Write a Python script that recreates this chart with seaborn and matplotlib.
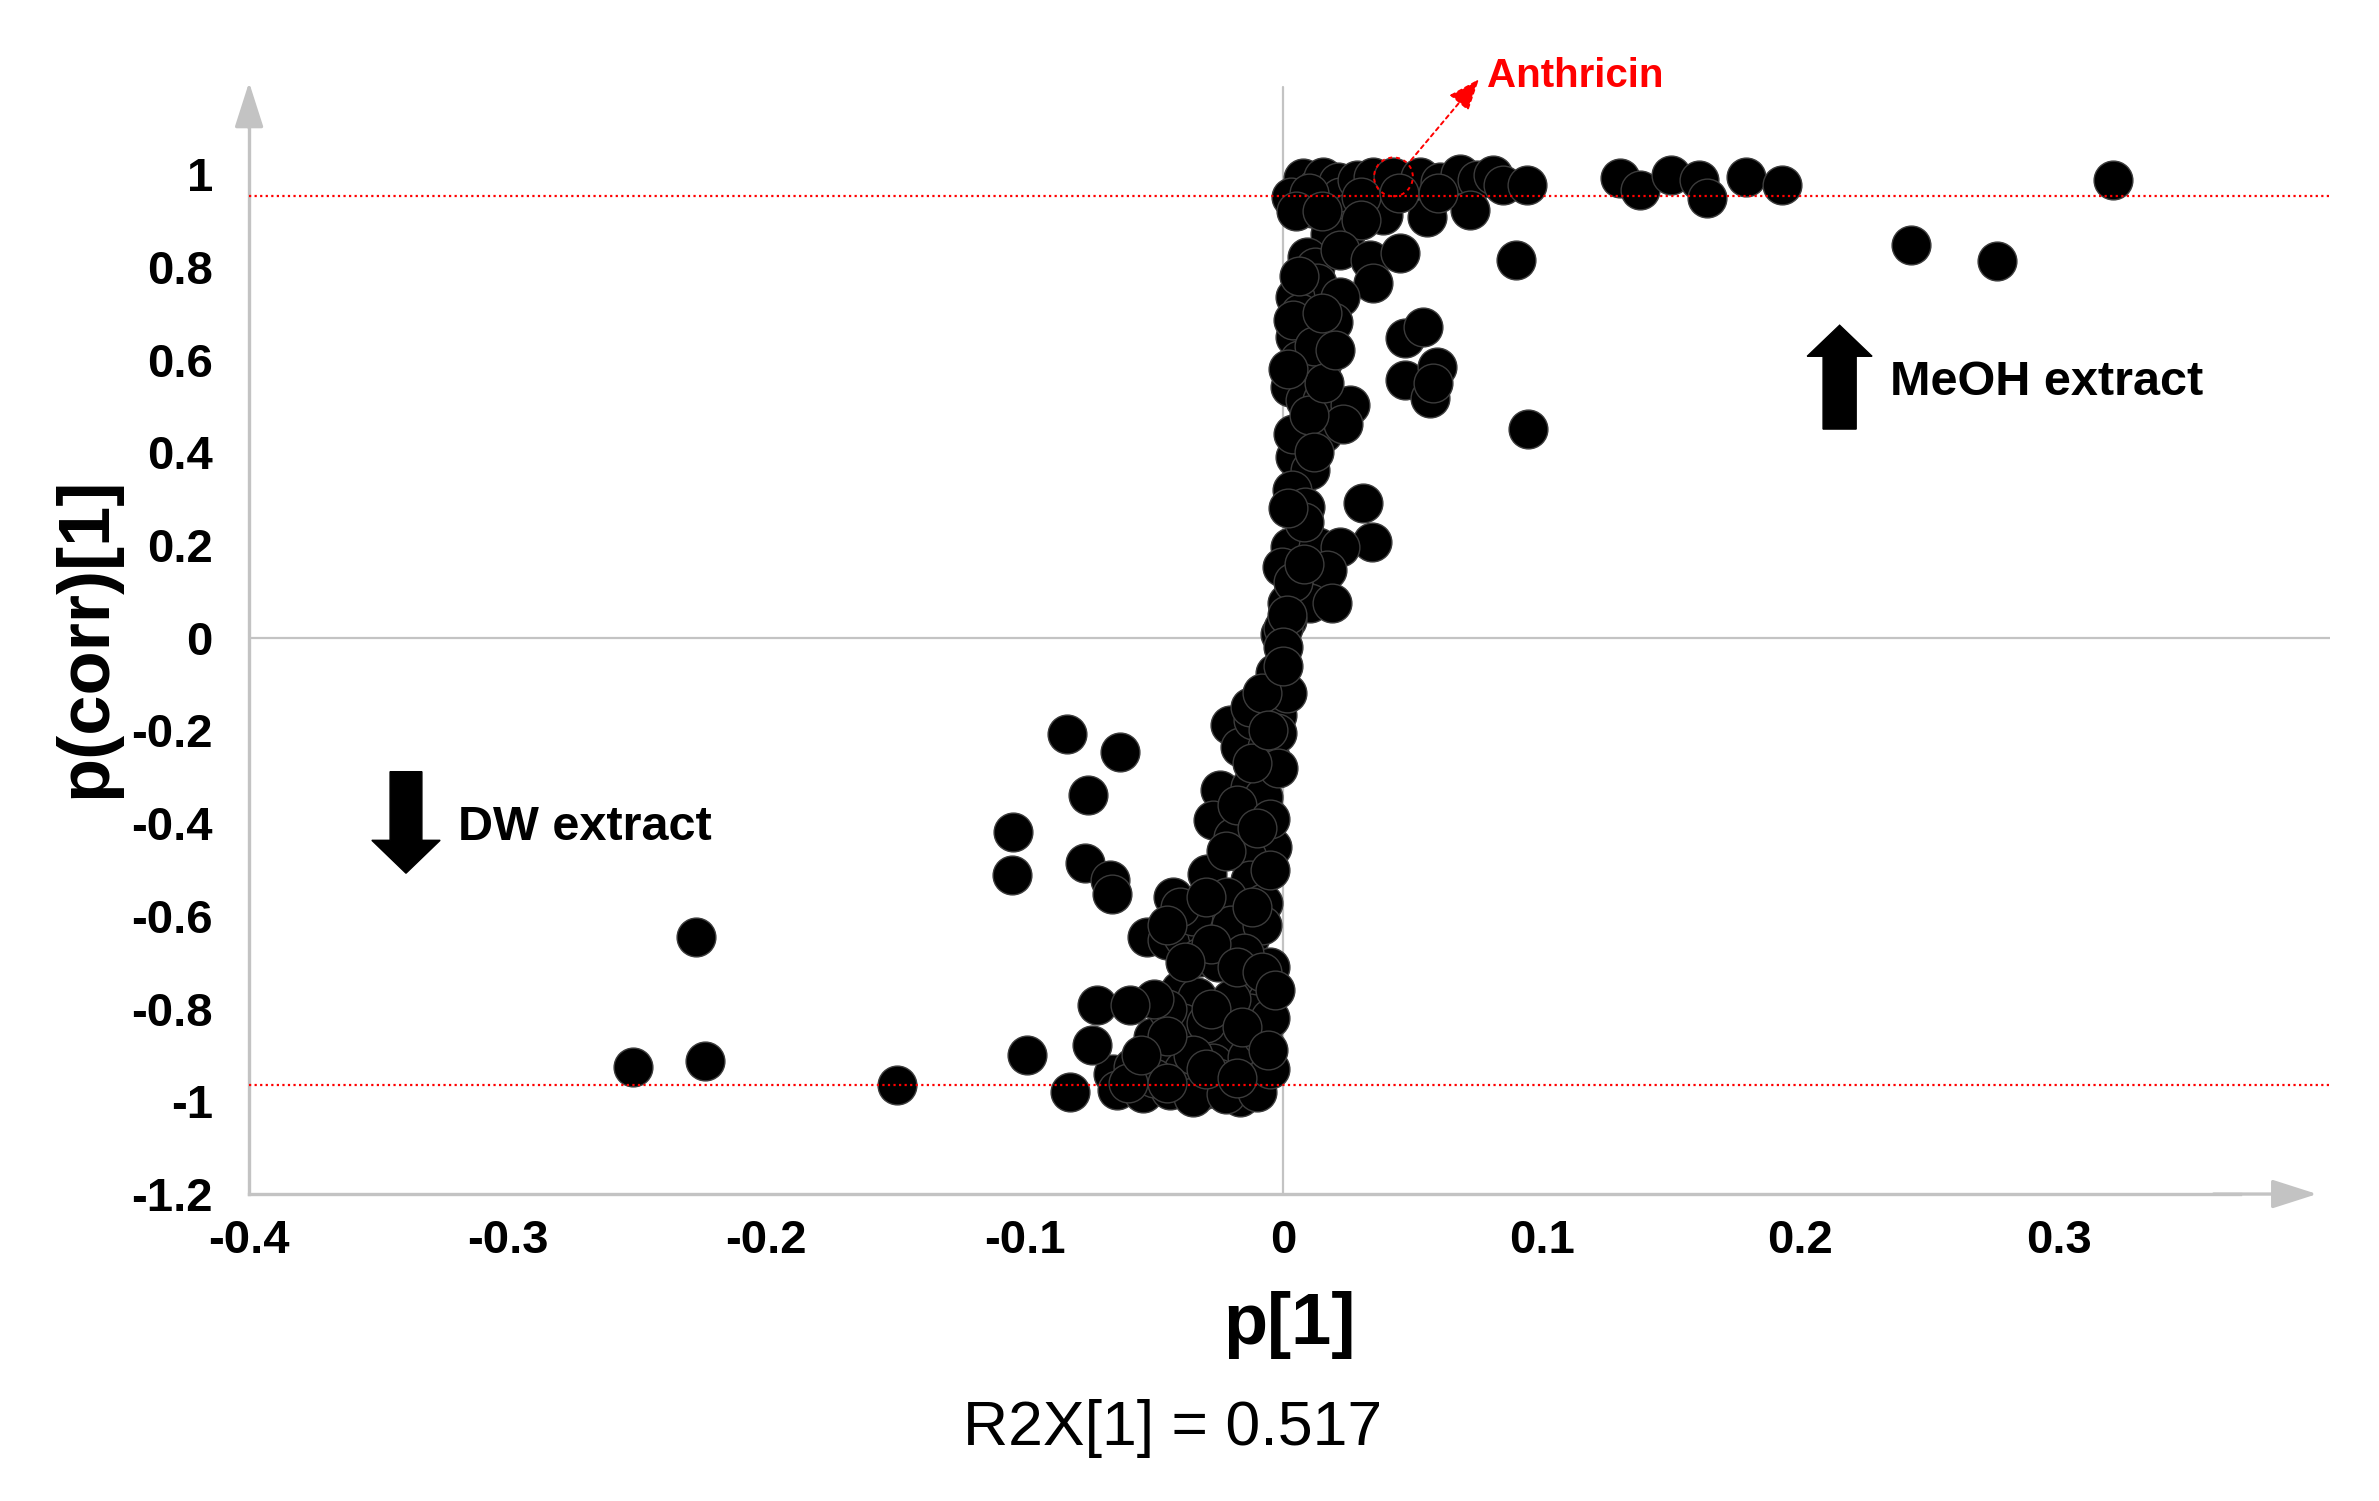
import matplotlib
matplotlib.use("Agg")
import matplotlib.pyplot as plt
import seaborn as sns
import pandas as pd
from matplotlib.ticker import FixedLocator

# S-plot values: p[1] and p(corr)[1]
top_p = [0.0079, 0.0130, 0.0156, 0.0214, 0.0220, 0.0285, 0.0349, 0.0427, 0.0530,
         0.0607, 0.0685, 0.0749, 0.0813, 0.0852, 0.0943, 0.0111, 0.0259, 0.0388,
         0.0556, 0.0723, 0.0246, 0.003, 0.010, 0.030, 0.045, 0.060, 0.018, 0.030,
         0.005, 0.015]
top_corr = [0.991, 0.973, 0.994, 0.983, 0.951, 0.987, 0.994, 0.994, 0.994,
            0.983, 1.000, 0.987, 0.998, 0.976, 0.976, 0.926, 0.919, 0.912,
            0.908, 0.922, 0.879, 0.950, 0.960, 0.950, 0.960, 0.960, 0.870, 0.900,
            0.920, 0.920]

right_p = [0.1304, 0.1381, 0.150, 0.161, 0.164, 0.179, 0.193, 0.321, 0.243, 0.276,
           0.0902, 0.0472, 0.0540, 0.0472, 0.0594, 0.0569, 0.0581, 0.0949]
right_corr = [0.991, 0.966, 0.997, 0.987, 0.948, 0.993, 0.977, 0.987, 0.846, 0.812,
              0.815, 0.646, 0.671, 0.556, 0.584, 0.516, 0.549, 0.451]

upper_p = [0.0092, 0.0124, 0.0220, 0.0337, 0.0453, 0.0349, 0.0130, 0.0220, 0.0046,
           0.0066, 0.0195, 0.0046, 0.0040, 0.0027, 0.0150, 0.0085, 0.0150, 0.0259,
           0.0156, 0.0233, 0.0046, 0.0104, 0.0034, 0.0085, 0.0311, 0.0343, 0.0027,
           0.0137, 0.0220, -0.0005, 0.0169, 0.0014, 0.0104, 0.0188, 0.0014, -0.0012,
           0.0000, 0.004, 0.008, 0.004, 0.010, 0.006, 0.012, 0.016, 0.006, 0.015,
           0.020, 0.002, 0.012, 0.008, 0.002]
upper_corr = [0.822, 0.800, 0.836, 0.815, 0.829, 0.764, 0.764, 0.735, 0.735,
              0.700, 0.681, 0.649, 0.685, 0.541, 0.592, 0.512, 0.512, 0.502,
              0.441, 0.462, 0.390, 0.362, 0.318, 0.282, 0.290, 0.207, 0.196,
              0.196, 0.196, 0.153, 0.146, 0.074, 0.074, 0.074, 0.038, 0.009,
              0.020, 0.120, 0.250, 0.440, 0.480, 0.600, 0.630, 0.550, 0.780, 0.700,
              0.620, 0.280, 0.400, 0.160, 0.580]

mid_p = [0.0014, 0.0001, -0.0031, -0.0024, -0.0205, -0.0166, -0.0050, -0.0244,
         -0.0128, -0.0076, -0.0270, -0.0192, -0.0044, -0.0140, -0.0295, -0.0128,
         -0.0218, -0.0424, -0.0076, 0.0014, -0.0115, -0.0063, -0.0024, -0.0128,
         -0.008, -0.002, -0.012, -0.018, -0.005, -0.022, -0.010, 0.000, -0.006,
         -0.005]
mid_corr = [0.049, -0.020, -0.077, -0.167, -0.189, -0.235, -0.257, -0.329,
            -0.322, -0.343, -0.394, -0.430, -0.451, -0.473, -0.509, -0.523,
            -0.559, -0.559, -0.573, -0.120, -0.178, -0.235, -0.205, -0.149,
            -0.120, -0.280, -0.270, -0.360, -0.390, -0.460, -0.410, -0.060, -0.200,
            -0.500]

low_p = [-0.0527, -0.0450, -0.0386, -0.0295, -0.0128, -0.0321, -0.0050, -0.0115,
         -0.0398, -0.0334, -0.0063, -0.0128, -0.0502, -0.0386, -0.0231, -0.0450,
         -0.0270, -0.0140, -0.0656, -0.0643, -0.0540, -0.0437, -0.0308, -0.0166,
         -0.0128, -0.0386, -0.0579, -0.035, -0.020, -0.008, -0.025, -0.015,
         -0.030, -0.045, -0.020, -0.008, -0.035, -0.025, -0.050, -0.060, -0.035,
         -0.022, -0.010, -0.005, -0.005, -0.040, -0.030, -0.045, -0.028, -0.018,
         -0.038, -0.050, -0.045, -0.028, -0.016, -0.006, -0.055, -0.030, -0.018,
         -0.045, -0.008, -0.003, -0.012]
low_corr = [-0.645, -0.652, -0.645, -0.638, -0.645, -0.688, -0.710, -0.739,
            -0.760, -0.775, -0.782, -0.810, -0.861, -0.832, -0.861, -0.925,
            -0.918, -0.904, -0.940, -0.976, -0.983, -0.976, -0.976, -0.990,
            -0.961, -0.933, -0.925, -0.600, -0.620, -0.620, -0.700, -0.680,
            -0.830, -0.800, -0.780, -0.860, -0.900, -0.950, -0.950, -0.960, -0.990,
            -0.985, -0.980, -0.930, -0.820, -0.580, -0.560, -0.620, -0.660, -0.710,
            -0.700, -0.780, -0.860, -0.800, -0.840, -0.890, -0.900, -0.930, -0.950,
            -0.960, -0.720, -0.760, -0.580]

left_p = [-0.0837, -0.0631, -0.0753, -0.1043, -0.1050, -0.0766, -0.0669, -0.0663,
          -0.0992, -0.1495, -0.0824, -0.0721, -0.0592, -0.0740, -0.2272, -0.2516,
          -0.2236]
left_corr = [-0.207, -0.246, -0.340, -0.419, -0.512, -0.487, -0.523, -0.552,
             -0.900, -0.965, -0.979, -0.792, -0.792, -0.879, -0.645, -0.926,
             -0.913]

cutoff_hi = 0.953
cutoff_lo = -0.965
anthricin = (0.0427, 0.994)

x_ticks = [-0.4, -0.3, -0.2, -0.1, 0, 0.1, 0.2, 0.3]
x_labels = ["-0.4", "-0.3", "-0.2", "-0.1", "0", "0.1", "0.2", "0.3"]
y_ticks = [-1.2, -1.0, -0.8, -0.6, -0.4, -0.2, 0, 0.2, 0.4, 0.6, 0.8, 1.0]
y_labels = ["-1.2", "-1", "-0.8", "-0.6", "-0.4", "-0.2", "0", "0.2", "0.4", "0.6", "0.8", "1"]

df = pd.DataFrame({
    "p1": top_p + right_p + upper_p + mid_p + low_p + left_p,
    "pcorr": top_corr + right_corr + upper_corr + mid_corr + low_corr + left_corr,
})

sns.set_style("white")
plt.rcParams["font.family"] = ["Liberation Sans", "DejaVu Sans"]
plt.rcParams["text.color"] = "black"
plt.rcParams["axes.labelcolor"] = "black"

GRAY = "#c3c3c3"
fig = plt.figure(figsize=(23.79, 15.01), dpi=100)
ax = fig.add_axes([0.1047, 0.2045, 0.8747, 0.7413])

# reference lines
ax.axvline(0, color=GRAY, lw=1.6, zorder=1, ymax=0.995)
ax.axhline(0, color=GRAY, lw=1.6, zorder=1)

sns.scatterplot(data=df, x="p1", y="pcorr", ax=ax, s=780, color="black",
                edgecolor="#3c3c3c", linewidth=1.0, zorder=3, legend=False)

ax.axhline(cutoff_hi, color="red", lw=1.6, ls=(0, (1, 1.5)), zorder=4)
ax.axhline(cutoff_lo, color="red", lw=1.6, ls=(0, (1, 1.5)), zorder=4)

# highlighted metabolite
ax.scatter([anthricin[0]], [anthricin[1]], s=780, facecolor="none",
           edgecolor="red", linewidth=1.4, linestyle=(0, (2, 2)), zorder=5)
ax.annotate("", xy=(0.0758, 1.205), xytext=(0.0495, 1.03),
            arrowprops=dict(arrowstyle="-|>,head_length=0.9,head_width=0.35",
                            color="red", lw=1.4, ls=(0, (2, 2)),
                            mutation_scale=22, shrinkA=0, shrinkB=0),
            annotation_clip=False, zorder=5)
ax.text(0.079, 1.188, "Anthricin", color="red", fontsize=29, fontweight="bold",
        ha="left", va="baseline", clip_on=False)

# direction arrows
ax.arrow(0.2153, 0.450, 0, 0.224, width=0.0128, head_width=0.0251, head_length=0.067,
         length_includes_head=True, color="black", zorder=6)
ax.text(0.2348, 0.523, "MeOH extract", fontsize=35, fontweight="bold",
        ha="left", va="baseline")
ax.arrow(-0.3393, -0.289, 0, -0.219, width=0.0123, head_width=0.0264, head_length=0.071,
         length_includes_head=True, color="black", zorder=6)
ax.text(-0.3191, -0.4367, "DW extract", fontsize=35, fontweight="bold",
        ha="left", va="baseline")

ax.set_xlim(-0.4, 0.405)
ax.set_ylim(-1.2, 1.2)

for side in ["top", "right"]:
    ax.spines[side].set_visible(False)
for side in ["left", "bottom"]:
    ax.spines[side].set_color(GRAY)
    ax.spines[side].set_linewidth(2.4)
ax.spines["left"].set_bounds(-1.2, 1.12)
ax.spines["bottom"].set_bounds(-0.4, 0.37)
ax.annotate("", xy=(-0.4, 1.198), xytext=(-0.4, 1.10),
            arrowprops=dict(arrowstyle="-|>,head_length=1.0,head_width=0.32",
                            color=GRAY, lw=2.4, mutation_scale=28, shrinkA=0, shrinkB=0),
            annotation_clip=False)
ax.annotate("", xy=(0.40, -1.2), xytext=(0.36, -1.2),
            arrowprops=dict(arrowstyle="-|>,head_length=1.0,head_width=0.32",
                            color=GRAY, lw=2.4, mutation_scale=28, shrinkA=0, shrinkB=0),
            annotation_clip=False)

ax.set_xticks(x_ticks)
ax.set_xticklabels(x_labels)
ax.set_yticks(y_ticks)
ax.set_yticklabels(y_labels)
ax.xaxis.set_minor_locator(FixedLocator([-0.35, -0.25, -0.15, -0.05, 0.05, 0.15, 0.25, 0.35]))
ax.yaxis.set_minor_locator(FixedLocator([-1.1, -0.9, -0.7, -0.5, -0.3, -0.1, 0.1, 0.3, 0.5, 0.7, 0.9]))
ax.tick_params(which="major", direction="out", length=12, width=1.5, color=GRAY,
               labelsize=34, labelcolor="black")
ax.tick_params(which="minor", direction="out", length=7, width=1.5, color=GRAY)
ax.tick_params(axis="y", which="major", pad=14)
ax.tick_params(axis="x", which="major", pad=6)
for lab in ax.get_xticklabels() + ax.get_yticklabels():
    lab.set_fontweight("bold")

ax.set_xlabel("p[1]", fontsize=52, fontweight="bold", labelpad=20, color="black")
ax.set_ylabel("p(corr)[1]", fontsize=52, fontweight="bold", labelpad=8, color="black")

fig.text(0.493, 0.0486, "R2X[1] = 0.517", fontsize=45, ha="center", va="center",
         color="black", family=["Liberation Sans", "DejaVu Sans"])

fig.savefig("out.png", dpi=100, facecolor="white")
